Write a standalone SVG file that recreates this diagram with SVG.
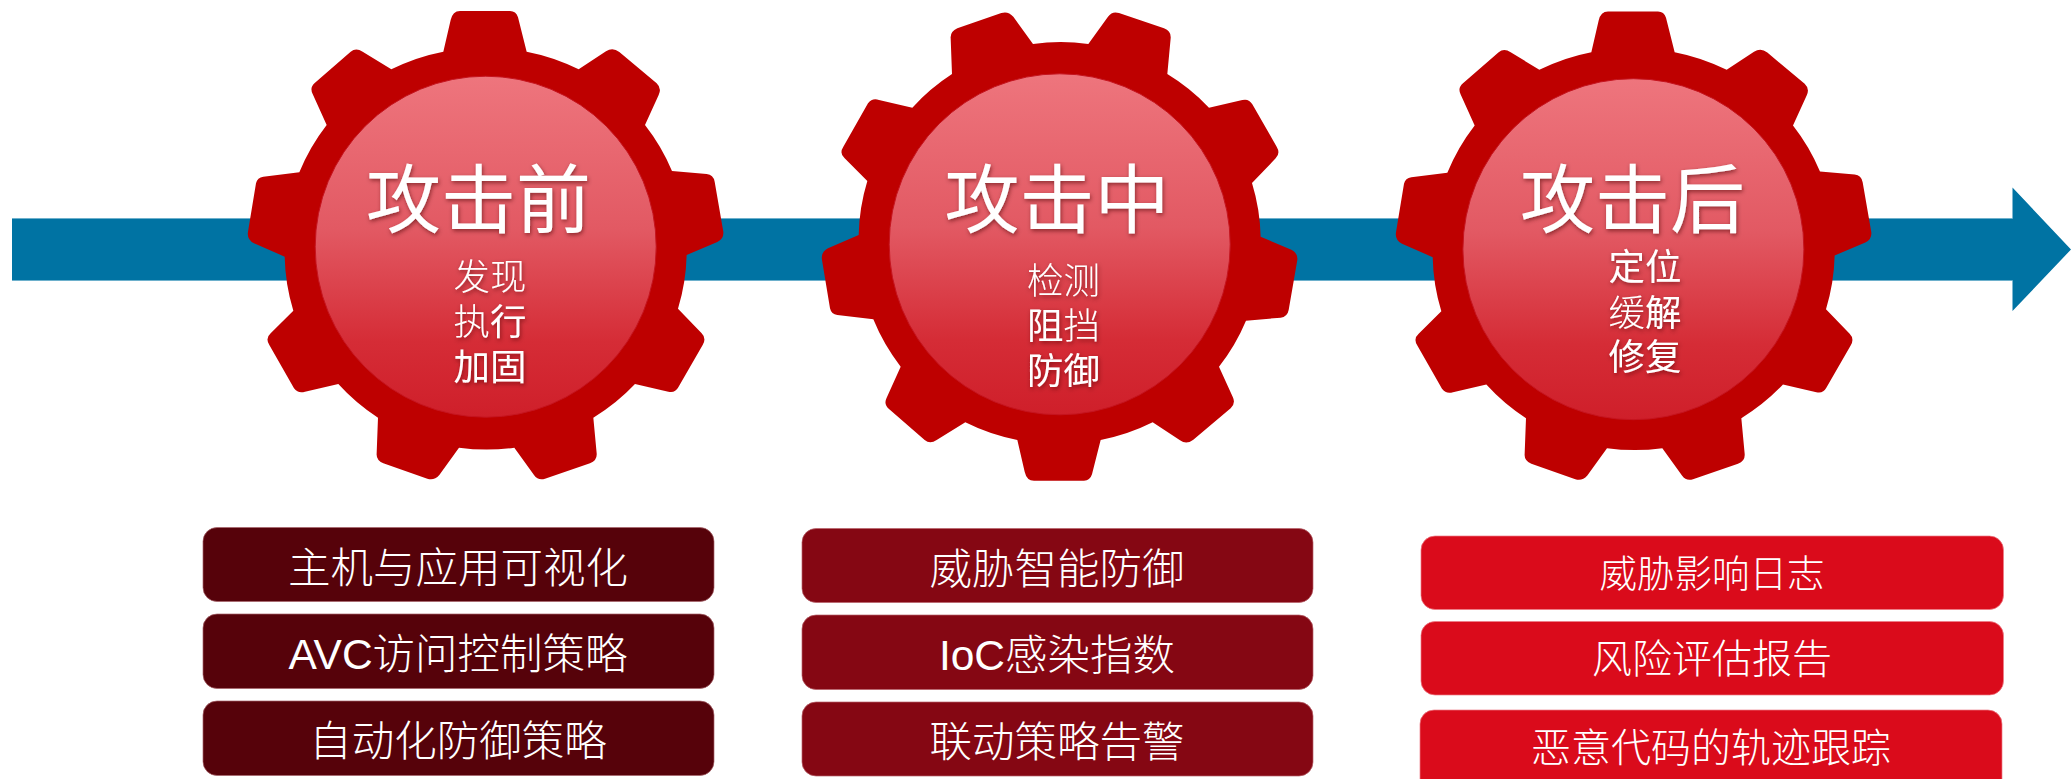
<svg xmlns="http://www.w3.org/2000/svg" width="2071" height="779" viewBox="0 0 2071 779">
<style>
text{font-family:"Liberation Sans","Noto Sans CJK SC",sans-serif;fill:#fff;text-anchor:middle;font-weight:300}
.t{font-size:75px;font-weight:400;filter:url(#sh)}
.s{font-size:36.5px;filter:url(#sh)}
.h{font-weight:400}
.b{font-size:42.5px}
.c{font-size:40px}
.d1{fill:#56020a;stroke:#a8636a;stroke-width:.7}
.d2{fill:#850713;stroke:#b8626a;stroke-width:.7}
.d3{fill:#da0b1b;stroke:#ee7d86;stroke-width:.7}
.disc{fill:url(#dg);stroke:#c5141f;stroke-width:1}
.edge{fill:none;stroke:#6db0cc;stroke-width:1}
</style>
<defs>
<linearGradient id="dg" x1="0" y1="0" x2="0" y2="1">
<stop offset="0" stop-color="#ee757d"/><stop offset=".45" stop-color="#e25963"/><stop offset=".78" stop-color="#d52c36"/><stop offset="1" stop-color="#cf1f2a"/>
</linearGradient>
<filter id="sh" x="-10%" y="-10%" width="125%" height="130%"><feDropShadow dx="1" dy="2" stdDeviation="2" flood-color="#400" flood-opacity=".55"/></filter>
<path id="gear" fill="#be0000" transform="translate(230 0) scale(.33333)" d="M640 155L662 60Q668 33 690 33L840 33Q858 33 864 52L890 155A600 600 0 0 1 1046 208L1128 154Q1148 140 1168 156L1280 250Q1296 265 1286 285L1245 375A600 600 0 0 1 1326 513L1430 522Q1450 524 1454 545L1480 695Q1482 716 1462 726L1370 765A600 600 0 0 1 1344 926L1415 1000Q1430 1015 1418 1035L1345 1162Q1335 1180 1315 1175L1215 1152A600 600 0 0 1 1090 1253L1100 1360Q1102 1382 1080 1390L945 1436Q925 1443 912 1425L853 1343A600 600 0 0 1 687 1343L628 1425Q612 1443 592 1436L460 1390Q438 1380 440 1360L444 1253A600 600 0 0 1 325 1152L225 1175Q205 1182 192 1165L118 1035Q105 1015 122 1000L190 932A600 600 0 0 1 164 770L72 730Q50 718 54 695L78 550Q82 532 100 530L208 517A600 600 0 0 1 290 375L248 282Q238 262 255 248L362 155Q378 142 398 155L484 208A600 600 0 0 1 640 155Z"/>
</defs>
<g id="connectors">
<path d="M12 218.5H2012.5V187.5L2071 249.5L2012.5 311V280.5H12Z" fill="#0073a3"/>
<path class="edge" d="M12 218.5H2012.5M12 280.5H2012.5"/>
</g>
<g id="gear-before">
<use href="#gear"/>
<circle class="disc" cx="485.7" cy="246.7" r="170.5"/>
<text class="t" x="478.5" y="227">攻击前</text>
<text class="s" x="490" y="290">发现</text>
<text class="s" x="490" y="335">执<tspan class="h">行</tspan></text>
<text class="s h" x="490" y="380">加固</text>
</g>
<g id="gear-during">
<use href="#gear" transform="translate(574 491.7) scale(1 -1)"/>
<circle class="disc" cx="1059.7" cy="244.3" r="170.5"/>
<text class="t" x="1057" y="227">攻击中</text>
<text class="s" x="1063.5" y="294">检测</text>
<text class="s" x="1063.5" y="339"><tspan class="h">阻</tspan>挡</text>
<text class="s h" x="1063.5" y="384">防御</text>
</g>
<g id="gear-after">
<use href="#gear" transform="translate(1148 .5)"/>
<circle class="disc" cx="1633.4" cy="249.2" r="170.5"/>
<text class="t" x="1632.6" y="227">攻击后</text>
<text class="s h" x="1645" y="280">定位</text>
<text class="s" x="1645" y="326">缓<tspan class="h">解</tspan></text>
<text class="s h" x="1645" y="370">修复</text>
</g>
<g id="box-1-1"><rect class="d1" x="203" y="527.5" width="511" height="74" rx="14"/><text class="b" x="458" y="583">主机与应用可视化</text></g>
<g id="box-1-2"><rect class="d1" x="203" y="614" width="511" height="74.5" rx="14"/><text class="b" x="458" y="669">AVC访问控制策略</text></g>
<g id="box-1-3"><rect class="d1" x="203" y="701" width="511" height="74.5" rx="14"/><text class="b" x="458" y="756">自动化防御策略</text></g>
<g id="box-2-1"><rect class="d2" x="802" y="528.5" width="511" height="74" rx="14"/><text class="b" x="1057" y="584">威胁智能防御</text></g>
<g id="box-2-2"><rect class="d2" x="802" y="615" width="511" height="74.5" rx="14"/><text class="b" x="1057" y="670">IoC感染指数</text></g>
<g id="box-2-3"><rect class="d2" x="802" y="702" width="511" height="74" rx="14"/><text class="b" x="1057" y="757">联动策略告警</text></g>
<g id="box-3-1"><rect class="d3" x="1421" y="536" width="582.5" height="73.5" rx="14"/><text class="c" style="font-size:37.5px" x="1712" y="587">威胁影响日志</text></g>
<g id="box-3-2"><rect class="d3" x="1421" y="621.5" width="582.5" height="73.5" rx="14"/><text class="c" x="1712" y="673">风险评估报告</text></g>
<g id="box-3-3"><rect class="d3" x="1420" y="710" width="582" height="90" rx="14"/><text class="c" x="1711" y="762">恶意代码的轨迹跟踪</text></g>
</svg>
